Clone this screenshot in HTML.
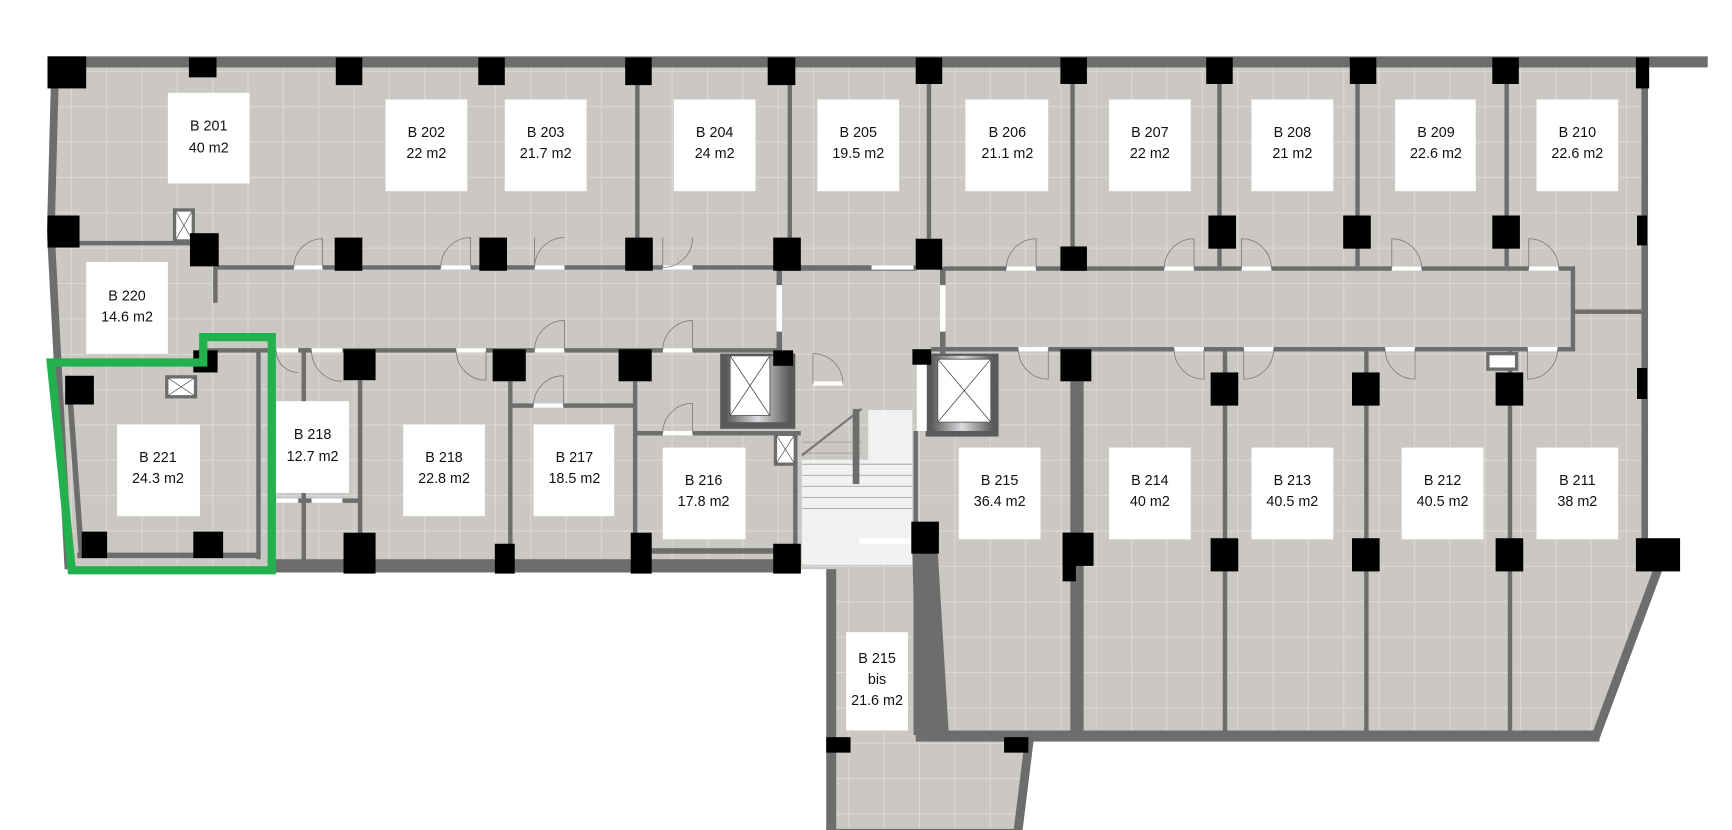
<!DOCTYPE html>
<html><head><meta charset="utf-8"><style>
html,body{margin:0;padding:0;background:#fff;}
svg{display:block;}
text{font-family:"Liberation Sans",sans-serif;font-size:13px;fill:#111;text-anchor:middle;}
</style></head><body>
<svg width="1732" height="830" viewBox="0 0 1568 751" preserveAspectRatio="none" xmlns="http://www.w3.org/2000/svg">
<defs>
<pattern id="tile" width="32" height="32" patternUnits="userSpaceOnUse">
<rect width="32" height="32" fill="#cbc7c3"/>
<path d="M0 0.5H32M0.5 0V32" stroke="#dcd8d4" stroke-width="1"/>
</pattern>
<linearGradient id="met" x1="0" x2="1">
<stop offset="0" stop-color="#555"/><stop offset="0.5" stop-color="#d8dadd"/><stop offset="1" stop-color="#555"/>
</linearGradient>
</defs>
<polygon points="47,55 1489,55 1489,515 1501,517 1444,668 934,668 920,755 752,755 752,515 62,517 45,210" fill="url(#tile)"/>
<rect x="726" y="371" width="100" height="140" fill="#f1f1f1"/>
<rect x="726" y="371" width="60" height="45" fill="url(#tile)"/>
<g stroke="#999" stroke-width="0.7">
<line x1="726" y1="420" x2="826" y2="420"/><line x1="726" y1="430" x2="826" y2="430"/><line x1="726" y1="440" x2="826" y2="440"/><line x1="726" y1="450" x2="826" y2="450"/><line x1="726" y1="460" x2="826" y2="460"/>
<line x1="726" y1="410" x2="780" y2="410"/><line x1="726" y1="400" x2="780" y2="400"/>
</g>
<line x1="726" y1="412" x2="780" y2="370" stroke="#777" stroke-width="2"/>
<rect x="772" y="370" width="6" height="68" fill="#6d6d6d"/>
<g fill="#6d6d6d">
<rect x="43" y="51" width="1503" height="10"/>
<rect x="1486" y="55" width="6" height="462"/>
<rect x="249" y="506" width="476" height="12"/>
<rect x="829" y="661" width="619" height="10"/>
<rect x="748" y="515" width="9" height="242"/>
<rect x="748" y="750" width="176" height="8"/>
<rect x="197" y="240" width="508" height="4"/>
<rect x="180" y="315" width="525" height="4"/>
<rect x="854" y="241" width="571" height="4"/>
<rect x="843" y="314" width="582" height="4"/>
<rect x="1422" y="241" width="4" height="77"/>
<rect x="1425" y="280" width="64" height="4"/>
<rect x="703" y="242" width="5" height="78"/>
<rect x="851" y="242" width="5" height="78"/>
<rect x="193" y="241" width="4" height="33"/>
<rect x="72" y="218" width="103" height="4"/>
<rect x="709" y="240" width="120" height="5"/>
<rect x="575" y="61" width="4" height="155"/>
<rect x="713" y="61" width="4" height="155"/>
<rect x="839" y="61" width="4" height="155"/>
<rect x="969" y="61" width="4" height="162"/>
<rect x="1102" y="61" width="4" height="180"/>
<rect x="1227" y="61" width="4" height="180"/>
<rect x="1362" y="61" width="4" height="180"/>
<rect x="324" y="344" width="4" height="140"/>
<rect x="460" y="345" width="4" height="150"/>
<rect x="573" y="345" width="4" height="140"/>
<rect x="462" y="365" width="113" height="4"/>
<rect x="575" y="390" width="150" height="4"/>
<rect x="718" y="390" width="4" height="108"/>
<rect x="590" y="496" width="112" height="5"/>
<rect x="249" y="451" width="77" height="4"/>
<rect x="273" y="317" width="4" height="190"/>
<rect x="232" y="318" width="4" height="188"/>
<rect x="70" y="500" width="164" height="5"/>
<rect x="827" y="390" width="4" height="275"/>
<rect x="969" y="316" width="12" height="350"/>
<rect x="1107" y="316" width="4" height="348"/>
<rect x="1235" y="316" width="4" height="348"/>
<rect x="1365" y="316" width="4" height="348"/>
<polygon points="826,500 849,500 859,665 830,665"/>
</g>
<line x1="50" y1="58" x2="46" y2="210" stroke="#6d6d6d" stroke-width="7"/>
<line x1="46" y1="210" x2="62" y2="515" stroke="#6d6d6d" stroke-width="7"/>
<line x1="1501" y1="515" x2="1444" y2="668" stroke="#6d6d6d" stroke-width="8"/>
<line x1="932" y1="668" x2="921" y2="757" stroke="#6d6d6d" stroke-width="8"/>
<line x1="62" y1="340" x2="74" y2="505" stroke="#6d6d6d" stroke-width="5"/>
<g fill="#fff">
<rect x="266" y="240" width="26" height="4"/><rect x="399" y="240" width="27" height="4"/><rect x="484" y="240" width="27" height="4"/><rect x="600" y="240" width="27" height="4"/>
<rect x="789" y="240" width="38" height="4"/>
<rect x="911" y="241" width="27" height="4"/><rect x="1054" y="241" width="27" height="4"/><rect x="1124" y="241" width="27" height="4"/><rect x="1260" y="241" width="27" height="4"/><rect x="1384" y="241" width="27" height="4"/>
<rect x="250" y="315" width="20" height="4"/><rect x="282" y="315" width="28" height="4"/><rect x="413" y="315" width="27" height="4"/><rect x="484" y="315" width="27" height="4"/><rect x="600" y="315" width="27" height="4"/>
<rect x="922" y="314" width="27" height="4"/><rect x="1063" y="314" width="27" height="4"/><rect x="1126" y="314" width="27" height="4"/><rect x="1254" y="314" width="27" height="4"/><rect x="1383" y="314" width="27" height="4"/>
<rect x="483" y="365" width="27" height="4"/><rect x="600" y="390" width="27" height="4"/><rect x="736" y="345" width="27" height="4"/>
<rect x="703" y="258" width="5" height="42"/><rect x="851" y="258" width="5" height="42"/>
<rect x="778" y="487" width="46" height="5"/>
<rect x="250" y="451" width="20" height="4"/><rect x="282" y="451" width="28" height="4"/>
<rect x="1347" y="320" width="26" height="14" stroke="#6d6d6d" stroke-width="3"/>
</g>
<g fill="none" stroke="#777" stroke-width="0.7">
<path d="M266 242 A26 26 0 0 1 292 216 V242"/><path d="M399 242 A27 27 0 0 1 426 215 V242"/><path d="M484 242 A27 27 0 0 1 511 215"/><path d="M484 242V215"/><path d="M600 242 A27 27 0 0 0 627 215"/><path d="M600 242V215"/>
<path d="M911 243 A27 27 0 0 1 938 216V243"/><path d="M1054 243 A27 27 0 0 1 1081 216V243"/><path d="M1124 243 V216 A27 27 0 0 1 1151 243"/><path d="M1260 243 V216 A27 27 0 0 1 1287 243"/><path d="M1384 243 V216 A27 27 0 0 1 1411 243"/>
<path d="M484 317 A27 27 0 0 1 511 290V317"/><path d="M600 317 A27 27 0 0 1 627 290V317"/><path d="M413 317 A27 27 0 0 0 440 344V317"/>
<path d="M922 316 A27 27 0 0 0 949 343V316"/><path d="M1063 316 A27 27 0 0 0 1090 343V316"/><path d="M1126 316 V343 A27 27 0 0 0 1153 316"/><path d="M1254 316 A27 27 0 0 0 1281 343V316"/><path d="M1383 316 V343 A27 27 0 0 0 1410 316"/>
<path d="M483 367 A27 27 0 0 1 510 340V367"/><path d="M600 392 A27 27 0 0 1 627 365V392"/><path d="M736 347 V320 A27 27 0 0 1 763 347"/>
<path d="M250 317 A20 20 0 0 0 270 337"/><path d="M282 317 A28 28 0 0 0 310 345"/>
</g>
<rect x="652" y="320" width="68" height="68" fill="#5a5a5a"/><rect x="656" y="322" width="60" height="60" fill="url(#met)"/>
<rect x="661" y="322" width="36" height="54" fill="#fff" stroke="#555" stroke-width="0.8"/><path d="M661 322L697 376M697 322L661 376" stroke="#444" stroke-width="0.7"/>
<rect x="838" y="320" width="66" height="75" fill="#5a5a5a"/><rect x="842" y="322" width="58" height="68" fill="url(#met)"/>
<rect x="849" y="325" width="48" height="57" fill="#fff" stroke="#555" stroke-width="0.8"/><path d="M849 325L897 382M897 325L849 382" stroke="#444" stroke-width="0.7"/>
<rect x="830" y="327" width="9" height="63" fill="#fff"/>
<g fill="#fff" stroke="#6d6d6d" stroke-width="3">
<rect x="158" y="190" width="17" height="28"/><rect x="151" y="341" width="26" height="18"/><rect x="702" y="393" width="18" height="27"/>
</g>
<path d="M159 191L174 217M174 191L159 217M152 342L176 358M176 342L152 358M703 394L719 419M719 394L703 419" stroke="#444" stroke-width="0.6"/>
<g fill="#000">
<rect x="43" y="51" width="35" height="29"/><rect x="171" y="52" width="25" height="18"/><rect x="304" y="52" width="24" height="25"/><rect x="433" y="52" width="24" height="25"/><rect x="566" y="52" width="24" height="25"/><rect x="695" y="52" width="25" height="25"/>
<rect x="829" y="52" width="24" height="24"/><rect x="960" y="52" width="24" height="24"/><rect x="1092" y="52" width="24" height="24"/><rect x="1222" y="52" width="24" height="24"/><rect x="1351" y="52" width="24" height="24"/><rect x="1481" y="52" width="12" height="28"/>
<rect x="43" y="195" width="29" height="29"/><rect x="172" y="211" width="26" height="30"/><rect x="303" y="215" width="25" height="30"/><rect x="434" y="215" width="25" height="30"/><rect x="566" y="215" width="25" height="30"/><rect x="700" y="215" width="25" height="30"/>
<rect x="829" y="216" width="24" height="28"/><rect x="960" y="223" width="24" height="22"/><rect x="1094" y="195" width="25" height="30"/><rect x="1216" y="195" width="25" height="30"/><rect x="1351" y="195" width="25" height="30"/><rect x="1482" y="195" width="9" height="27"/>
<rect x="59" y="340" width="26" height="26"/><rect x="74" y="481" width="23" height="24"/><rect x="175" y="481" width="27" height="24"/><rect x="175" y="317" width="22" height="20"/>
<rect x="311" y="316" width="29" height="28"/><rect x="446" y="316" width="30" height="29"/><rect x="560" y="316" width="30" height="29"/><rect x="700" y="317" width="18" height="14"/>
<rect x="311" y="482" width="29" height="37"/><rect x="448" y="492" width="18" height="27"/><rect x="571" y="482" width="19" height="37"/><rect x="700" y="492" width="25" height="27"/>
<rect x="826" y="316" width="17" height="14"/><rect x="960" y="316" width="28" height="29"/><rect x="1096" y="337" width="25" height="30"/><rect x="1224" y="337" width="25" height="30"/><rect x="1354" y="337" width="25" height="30"/><rect x="1482" y="333" width="9" height="28"/>
<rect x="825" y="472" width="25" height="29"/><rect x="962" y="482" width="28" height="30"/><rect x="962" y="482" width="12" height="44"/><rect x="1096" y="487" width="25" height="30"/><rect x="1224" y="487" width="25" height="30"/><rect x="1354" y="487" width="25" height="30"/><rect x="1481" y="487" width="40" height="30"/>
<rect x="748" y="667" width="22" height="14"/><rect x="909" y="667" width="22" height="14"/>
</g>
<polygon points="46,328 184,328 184,305 246,305 246,516 65,516" fill="none" stroke="#22b14c" stroke-width="7.5" stroke-linejoin="miter"/>
<g fill="#fff">
<rect x="152" y="84" width="74" height="82"/><rect x="349" y="90" width="74" height="83"/><rect x="457" y="90" width="74" height="83"/><rect x="610" y="90" width="74" height="83"/><rect x="740" y="90" width="74" height="83"/>
<rect x="874" y="90" width="75" height="83"/><rect x="1004" y="90" width="74" height="83"/><rect x="1133" y="90" width="74" height="83"/><rect x="1263" y="90" width="73" height="83"/><rect x="1391" y="90" width="74" height="83"/>
<rect x="78" y="237" width="74" height="83"/><rect x="106" y="384" width="75" height="83"/><rect x="250" y="363" width="66" height="83"/><rect x="365" y="384" width="74" height="83"/><rect x="483" y="384" width="73" height="83"/><rect x="600" y="405" width="75" height="83"/>
<rect x="868" y="405" width="74" height="83"/><rect x="1004" y="405" width="74" height="83"/><rect x="1133" y="405" width="74" height="83"/><rect x="1269" y="405" width="74" height="83"/><rect x="1391" y="405" width="74" height="83"/>
<rect x="766" y="572" width="56" height="89"/>
</g>
<text x="189" y="118">B 201</text><text x="189" y="138">40 m2</text>
<text x="386" y="124">B 202</text><text x="386" y="143">22 m2</text>
<text x="494" y="124">B 203</text><text x="494" y="143">21.7 m2</text>
<text x="647" y="124">B 204</text><text x="647" y="143">24 m2</text>
<text x="777" y="124">B 205</text><text x="777" y="143">19.5 m2</text>
<text x="912" y="124">B 206</text><text x="912" y="143">21.1  m2</text>
<text x="1041" y="124">B 207</text><text x="1041" y="143">22 m2</text>
<text x="1170" y="124">B 208</text><text x="1170" y="143">21 m2</text>
<text x="1300" y="124">B 209</text><text x="1300" y="143">22.6 m2</text>
<text x="1428" y="124">B 210</text><text x="1428" y="143">22.6 m2</text>
<text x="115" y="272">B 220</text><text x="115" y="291">14.6 m2</text>
<text x="143" y="418">B 221</text><text x="143" y="437">24.3 m2</text>
<text x="283" y="397">B 218</text><text x="283" y="417">12.7 m2</text>
<text x="402" y="418">B 218</text><text x="402" y="437">22.8 m2</text>
<text x="520" y="418">B 217</text><text x="520" y="437">18.5 m2</text>
<text x="637" y="439">B 216</text><text x="637" y="458">17.8 m2</text>
<text x="905" y="439">B 215</text><text x="905" y="458">36.4 m2</text>
<text x="1041" y="439">B 214</text><text x="1041" y="458">40 m2</text>
<text x="1170" y="439">B 213</text><text x="1170" y="458">40.5 m2</text>
<text x="1306" y="439">B 212</text><text x="1306" y="458">40.5 m2</text>
<text x="1428" y="439">B 211</text><text x="1428" y="458">38 m2</text>
<text x="794" y="600">B 215</text><text x="794" y="619">bis</text><text x="794" y="638">21.6 m2</text>
</svg>
</body></html>
